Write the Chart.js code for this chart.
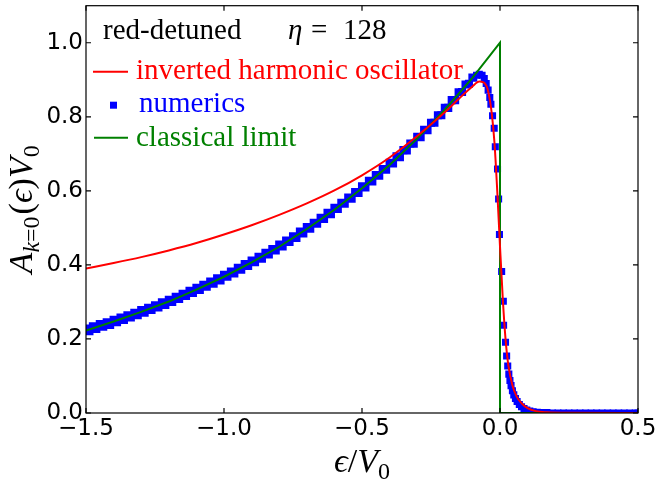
<!DOCTYPE html>
<html>
<head>
<meta charset="utf-8">
<script src="https://cdn.jsdelivr.net/npm/chart.js@4.4.0/dist/chart.umd.min.js"></script>
<style>
  html, body { margin: 0; padding: 0; background: #fff; }
  #wrap { width: 659px; height: 483px; }
</style>
</head>
<body>
<div id="wrap"><canvas id="myChart" width="659" height="483"></canvas></div>
<script>
// tick labels
const xTicks = [-1.5, -1.0, -0.5, 0.0, 0.5];
const yTicks = [0.0, 0.2, 0.4, 0.6, 0.8, 1.0];

// inverted harmonic oscillator (red)
const ihoX = [-1.5, -1.4, -1.3, -1.2, -1.1, -1.0, -0.9, -0.8, -0.7, -0.6, -0.5, -0.4, -0.3, -0.2, -0.15, -0.1,
  -0.075, -0.06, -0.045, -0.03, -0.02, -0.01, 0.0, 0.01, 0.02, 0.03, 0.045, 0.06, 0.08, 0.1, 0.13, 0.17, 0.25, 0.5];
const ihoY = [0.390, 0.405, 0.421, 0.439, 0.459, 0.482, 0.507, 0.535, 0.566, 0.601, 0.642, 0.690, 0.748, 0.812, 0.848, 0.882,
  0.895, 0.893, 0.875, 0.810, 0.730, 0.600, 0.450, 0.310, 0.200, 0.130, 0.075, 0.045, 0.025, 0.013, 0.005, 0.002, 0.0005, 0.0];

// classical limit (green)
const classX = [-1.5, -1.4, -1.3, -1.2, -1.1, -1.0, -0.9, -0.8, -0.7, -0.6, -0.5, -0.4, -0.3, -0.2, -0.1, 0.0, 0.0, 0.5];
const classY = [0.223, 0.247, 0.273, 0.301, 0.333, 0.368, 0.407, 0.449, 0.497, 0.549, 0.607, 0.670, 0.741, 0.819, 0.905, 1.0, 0.0, 0.0];

// numerics (blue squares): upper edge of the band
const numUpX = [-1.500, -1.475, -1.450, -1.425, -1.400, -1.375, -1.350, -1.325, -1.300, -1.275,
  -1.250, -1.225, -1.200, -1.175, -1.150, -1.125, -1.100, -1.075, -1.050, -1.025,
  -1.000, -0.975, -0.950, -0.925, -0.900, -0.875, -0.850, -0.825, -0.800, -0.775,
  -0.750, -0.725, -0.700, -0.675, -0.650, -0.625, -0.600, -0.575, -0.550, -0.525,
  -0.500, -0.475, -0.450, -0.425, -0.400, -0.375, -0.350, -0.325, -0.300, -0.275,
  -0.250, -0.225, -0.200, -0.175, -0.150, -0.125, -0.100];
const numUpY = [0.228, 0.234, 0.240, 0.245, 0.252, 0.258, 0.264, 0.271, 0.278, 0.284,
  0.291, 0.299, 0.306, 0.314, 0.322, 0.330, 0.338, 0.346, 0.355, 0.364,
  0.373, 0.382, 0.392, 0.402, 0.412, 0.422, 0.433, 0.443, 0.455, 0.466,
  0.477, 0.490, 0.502, 0.514, 0.527, 0.541, 0.554, 0.568, 0.582, 0.597,
  0.612, 0.627, 0.643, 0.659, 0.676, 0.693, 0.710, 0.728, 0.746, 0.765,
  0.784, 0.804, 0.824, 0.845, 0.866, 0.887, 0.906];
// numerics: lower edge of the band
const numLoX = [-1.4875, -1.4625, -1.4375, -1.4125, -1.3875, -1.3625, -1.3375, -1.3125, -1.2875, -1.2625,
  -1.2375, -1.2125, -1.1875, -1.1625, -1.1375, -1.1125, -1.0875, -1.0625, -1.0375, -1.0125,
  -0.9875, -0.9625, -0.9375, -0.9125, -0.8875, -0.8625, -0.8375, -0.8125, -0.7875, -0.7625,
  -0.7375, -0.7125, -0.6875, -0.6625, -0.6375, -0.6125, -0.5875, -0.5625, -0.5375, -0.5125,
  -0.4875, -0.4625, -0.4375, -0.4125, -0.3875, -0.3625, -0.3375, -0.3125, -0.2875, -0.2625,
  -0.2375, -0.2125, -0.1875, -0.1625, -0.1375, -0.1125];
const numLoY = [0.221, 0.227, 0.233, 0.238, 0.245, 0.251, 0.258, 0.264, 0.271, 0.278,
  0.285, 0.292, 0.300, 0.308, 0.316, 0.324, 0.332, 0.341, 0.349, 0.358,
  0.368, 0.377, 0.387, 0.397, 0.407, 0.417, 0.428, 0.439, 0.450, 0.462,
  0.473, 0.485, 0.498, 0.511, 0.524, 0.537, 0.551, 0.565, 0.579, 0.594,
  0.609, 0.625, 0.641, 0.657, 0.674, 0.691, 0.709, 0.727, 0.745, 0.764,
  0.784, 0.804, 0.824, 0.845, 0.867, 0.889];
// numerics: peak, fall and tail
const numPkX = [-0.095, -0.085, -0.075, -0.065, -0.057, -0.050, -0.043, -0.037,
  -0.033, -0.027, -0.021, -0.017, -0.009, -0.005, -0.002, 0.006,
  0.012, 0.013, 0.020, 0.024, 0.028, 0.032, 0.036, 0.040, 0.045, 0.050,
  0.056, 0.062, 0.070, 0.078, 0.087, 0.097, 0.108, 0.120, 0.135, 0.150,
  0.170, 0.190, 0.210, 0.230, 0.250, 0.270, 0.290, 0.310, 0.330, 0.350,
  0.370, 0.390, 0.410, 0.430, 0.450, 0.470, 0.490, 0.500];
const numPkY = [0.905, 0.912, 0.915, 0.912, 0.903, 0.890, 0.872, 0.852,
  0.834, 0.803, 0.769, 0.719, 0.659, 0.578, 0.482, 0.382,
  0.302, 0.237, 0.191, 0.154, 0.127, 0.105, 0.088, 0.074, 0.060, 0.049,
  0.039, 0.031, 0.023, 0.017, 0.012, 0.008, 0.005, 0.003, 0.002, 0.001,
  0.001, 0.000, 0.000, 0.000, 0.000, 0.000, 0.000, 0.000, 0.000, 0.000,
  0.000, 0.000, 0.000, 0.000, 0.000, 0.000, 0.000, 0.000];

const pts = (xs, ys) => xs.map((x, i) => ({ x: x, y: ys[i] }));
const fmt = v => (v < 0 ? '\u2212' : '') + Math.abs(v).toFixed(1);
const SERIF = '"Liberation Serif", "DejaVu Serif", serif';

// draw a run of text pieces (italic / subscript) one after another
function drawRich(ctx, parts, x, y, size, center) {
  const fontOf = p => (p.it ? 'italic ' : '') + Math.round(p.sub ? size * 0.7 : size) + 'px ' + SERIF;
  let total = 0;
  parts.forEach(p => { ctx.font = fontOf(p); total += ctx.measureText(p.t).width + (p.gap || 0); });
  let cx = center ? x - total / 2 : x;
  parts.forEach(p => {
    ctx.font = fontOf(p);
    ctx.fillText(p.t, cx, p.sub ? y + size * 0.22 : y);
    cx += ctx.measureText(p.t).width + (p.gap || 0);
  });
}

const framePlugin = {
  id: 'frame',
  afterDraw(chart) {
    const { ctx, chartArea: a, scales } = chart;
    const xs = scales.x, ys = scales.y;
    ctx.save();
    ctx.strokeStyle = '#000';
    ctx.lineWidth = 1.2;
    ctx.strokeRect(a.left, a.top, a.right - a.left, a.bottom - a.top);
    ctx.beginPath();
    xTicks.forEach(v => {
      const px = xs.getPixelForValue(v);
      ctx.moveTo(px, a.bottom); ctx.lineTo(px, a.bottom - 5);
      ctx.moveTo(px, a.top); ctx.lineTo(px, a.top + 5);
    });
    yTicks.forEach(v => {
      const py = ys.getPixelForValue(v);
      ctx.moveTo(a.left, py); ctx.lineTo(a.left + 5, py);
      ctx.moveTo(a.right, py); ctx.lineTo(a.right - 5, py);
    });
    ctx.stroke();

    // legend + annotation
    const L = a.left, T = a.top;
    ctx.textAlign = 'left';
    ctx.textBaseline = 'alphabetic';
    ctx.fillStyle = '#000';
    ctx.font = '29px ' + SERIF;
    ctx.fillText('red-detuned', L + 17, T + 33);
    ctx.font = 'italic 29px ' + SERIF;
    ctx.fillText('\u03b7', L + 202, T + 33);
    ctx.font = '29px ' + SERIF;
    ctx.fillText('=', L + 225, T + 33);
    ctx.fillText('128', L + 257, T + 33);

    ctx.lineWidth = 2;
    ctx.strokeStyle = '#ff0000';
    ctx.beginPath(); ctx.moveTo(L + 7, T + 66); ctx.lineTo(L + 42, T + 66); ctx.stroke();
    ctx.fillStyle = '#ff0000';
    ctx.fillText('inverted harmonic oscillator', L + 50, T + 73);

    ctx.fillStyle = '#0000ff';
    ctx.fillRect(L + 24, T + 96, 7, 7);
    ctx.fillText('numerics', L + 53, T + 106);

    ctx.strokeStyle = '#008000';
    ctx.beginPath(); ctx.moveTo(L + 8, T + 132); ctx.lineTo(L + 42, T + 132); ctx.stroke();
    ctx.fillStyle = '#008000';
    ctx.fillText('classical limit', L + 50, T + 140);

    // axis titles
    ctx.fillStyle = '#000';
    drawRich(ctx, [
      { t: '\u03f5', it: true }, { t: '/' }, { t: 'V', it: true }, { t: '0', sub: true }
    ], (a.left + a.right) / 2, 472, 34, true);

    ctx.translate(32, (a.top + a.bottom) / 2);
    ctx.rotate(-Math.PI / 2);
    drawRich(ctx, [
      { t: 'A', it: true }, { t: 'k', it: true, sub: true }, { t: '=0', sub: true, gap: 2 },
      { t: '(' }, { t: '\u03f5', it: true }, { t: ')' }, { t: 'V', it: true }, { t: '0', sub: true }
    ], 0, 0, 34, true);
    ctx.restore();
  }
};

const squares = (xs, ys, r) => ({
  label: 'numerics',
  data: pts(xs, ys),
  showLine: false,
  pointStyle: 'rect',
  pointRadius: r,
  backgroundColor: '#0000ff',
  borderWidth: 0,
  order: 2,
  clip: 0
});

const ctx = document.getElementById('myChart').getContext('2d');
const myChart = new Chart(ctx, {
  type: 'scatter',
  data: {
    datasets: [
      {
        label: 'inverted harmonic oscillator',
        data: pts(ihoX, ihoY),
        showLine: true,
        borderColor: '#ff0000',
        borderWidth: 2,
        pointRadius: 0,
        cubicInterpolationMode: 'monotone',
        order: 0,
        clip: 0
      },
      {
        label: 'classical limit',
        data: pts(classX, classY),
        showLine: true,
        borderColor: '#008000',
        borderWidth: 2,
        pointRadius: 0,
        tension: 0,
        order: 1,
        clip: 0
      },
      squares(numUpX, numUpY, 5.7),
      squares(numLoX, numLoY, 5.7),
      squares(numPkX, numPkY, 5)
    ]
  },
  options: {
    responsive: false,
    animation: false,
    devicePixelRatio: 1,
    layout: { padding: { top: 5, right: 21, left: 0, bottom: 0 } },
    plugins: { legend: { display: false }, tooltip: { enabled: false } },
    scales: {
      x: {
        type: 'linear',
        min: -1.5,
        max: 0.5,
        grid: { display: false, drawTicks: false },
        border: { display: false },
        afterBuildTicks: s => { s.ticks = xTicks.map(v => ({ value: v })); },
        afterFit: s => { s.height = 70; s.paddingLeft = 0; s.paddingRight = 0; },
        ticks: {
          callback: fmt,
          color: '#000',
          padding: 2,
          maxRotation: 0,
          autoSkip: false,
          font: { family: '"DejaVu Sans"', size: 23 }
        }
      },
      y: {
        type: 'linear',
        min: 0,
        max: 1.1,
        grid: { display: false, drawTicks: false },
        border: { display: false },
        afterBuildTicks: s => { s.ticks = yTicks.map(v => ({ value: v })); },
        afterFit: s => { s.width = 86; s.paddingTop = 0; s.paddingBottom = 0; },
        ticks: {
          callback: fmt,
          color: '#000',
          padding: 3,
          autoSkip: false,
          font: { family: '"DejaVu Sans"', size: 23 }
        }
      }
    }
  },
  plugins: [framePlugin]
});
</script>
</body>
</html>
